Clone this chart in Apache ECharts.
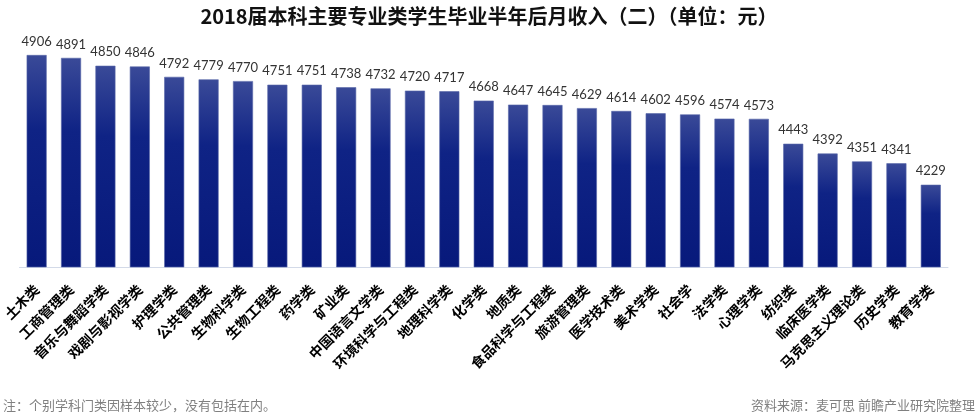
<!DOCTYPE html>
<html><head><meta charset="utf-8">
<script src="https://cdn.jsdelivr.net/npm/echarts@6/dist/echarts.min.js"></script>
<style>html,body{margin:0;padding:0;background:#fff}#c{width:978px;height:415px}</style>
</head><body><div id="c"></div>
<script>
const categories = ['土木类','工商管理类','音乐与舞蹈学类','戏剧与影视学类','护理学类','公共管理类','生物科学类','生物工程类','药学类','矿业类','中国语言文学类','环境科学与工程类','地理科学类','化学类','地质类','食品科学与工程类','旅游管理类','医学技术类','美术学类','社会学','法学类','心理学类','纺织类','临床医学类','马克思主义理论类','历史学类','教育学类'];
const values = [4906,4891,4850,4846,4792,4779,4770,4751,4751,4738,4732,4720,4717,4668,4647,4645,4629,4614,4602,4596,4574,4573,4443,4392,4351,4341,4229];
const titleText = '2018届本科主要专业类学生毕业半年后月收入（二）（单位：元）';
const noteText = '注：个别学科门类因样本较少，没有包括在内。';
const sourceText = '资料来源：麦可思 前瞻产业研究院整理';

const chart = echarts.init(document.getElementById('c'));
chart.setOption({
  animation: false,
  backgroundColor: '#fff',
  title: {text: titleText, left: 'center', top: 1,
    textStyle: {fontFamily: 'Noto Sans CJK SC', fontWeight: 'bold', fontSize: 20, color: '#111'}},
  graphic: [
    {type: 'text', left: 3, top: 399, style: {text: noteText, fontFamily: 'Noto Sans CJK SC', fontSize: 13, fill: '#808080'}},
    {type: 'text', right: 3, top: 399, style: {text: sourceText, fontFamily: 'Noto Sans CJK SC', fontSize: 13, fill: '#808080'}}
  ],
  grid: {left: 13, right: 30, top: 37, bottom: 148},
  xAxis: {type: 'category', data: categories,
    axisLine: {lineStyle: {color: '#d3dae8', width: 1}},
    axisTick: {show: false},
    axisLabel: {rotate: 45, interval: 0, margin: 20, fontFamily: 'Noto Sans CJK SC', fontWeight: 'bold', fontSize: 14, color: '#000'}},
  yAxis: {type: 'value', min: 3800, max: 5000, show: false, splitLine: {show: false}},
  series: [{type: 'bar', data: values, barWidth: 20,
    itemStyle: {
      color: new echarts.graphic.LinearGradient(0, 0, 0, 1, [
        {offset: 0, color: '#3a4a98'}, {offset: 0.35, color: '#0f2385'}, {offset: 1, color: '#07197b'}]),
      borderColor: '#5866a8', borderWidth: 0.6
    },
    label: {show: true, position: 'top', distance: 7, fontFamily: 'Lato', fontSize: 13, color: '#333'}
  }]
});
</script></body></html>
